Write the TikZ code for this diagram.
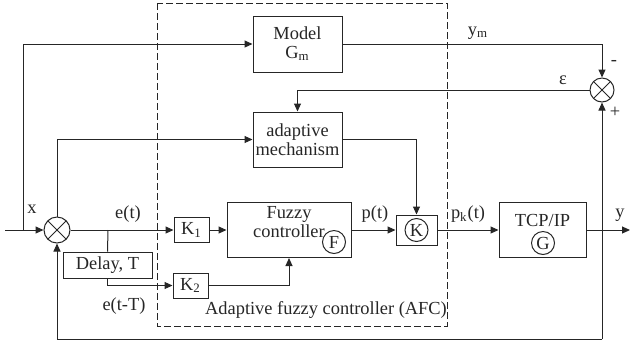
\documentclass[tikz,border=0pt]{standalone}
\usepackage{fontspec}
\setmainfont{Liberation Serif}
\usepackage{xcolor}
\usetikzlibrary{arrows.meta,positioning}
\definecolor{LineGray}{HTML}{262626}

\begin{document}
\begin{tikzpicture}[x=0.5pt,y=-0.5pt,
    font=\fontsize{9.2}{9.4}\selectfont,
    >={Triangle[length=4pt,width=3.5pt]},
    line width=0.5pt,color=LineGray,
    blk/.style={draw,inner sep=0pt,align=center},
    smallc/.style={draw,circle,inner sep=0pt,minimum size=11.5pt},
    sumc/.style={draw,circle,inner sep=0pt,minimum size=#1,
      path picture={\draw (path picture bounding box.north west) -- (path picture bounding box.south east)
                          (path picture bounding box.north east) -- (path picture bounding box.south west);}},
    lbl/.style={inner sep=0pt}]
  \useasboundingbox (0,0) rectangle (630,344);

  % AFC frame
  \draw[dash pattern=on 3.5pt off 1.5pt] (157,3) rectangle (447,326);
  \node[lbl] (afc) at (326,310) {Adaptive fuzzy controller (AFC)};

  % blocks
  \node[blk,minimum width=44.5pt,minimum height=28pt] (model) at (297.5,44) {Model\\G\textsubscript{m}};
  \node[blk,minimum width=44.5pt,minimum height=27.5pt] (adapt) at (297.5,139.5) {adaptive\\mechanism};
  \node[blk,minimum width=44.5pt,minimum height=13pt] (delay) at (107.5,265) {Delay, T};
  \node[blk,minimum width=17.5pt,minimum height=12.5pt] (k1) at (191.5,230) {K\textsubscript{1}};
  \node[blk,minimum width=17.5pt,minimum height=12.5pt] (k2) at (190.5,285.5) {K\textsubscript{2}};
  \node[blk,minimum width=62pt,minimum height=27.5pt] (fuzzy) at (289,230) {};
  \node[lbl,align=center,below=2pt] (fuzzytxt) at (fuzzy.north) {Fuzzy\\controller};
  \node[smallc] (fc) at (334,242) {F};
  \node[blk,minimum width=20.5pt,minimum height=15pt] (kbox) at (416.5,230) {};
  \node[smallc] (kc) at (kbox) {K};
  \node[blk,minimum width=43.5pt,minimum height=27.5pt] (tcp) at (542.5,230) {};
  \node[lbl] (tcptxt) at (542.5,220) {TCP/IP};
  \node[smallc] (gc) at (543,243) {G};

  % summing junctions
  \node[sumc=13pt] (sumL) at (57,230) {};
  \node[sumc=12pt] (sumR) at (602,90) {};

  % helper points
  \coordinate (in) at (5,230);
  \coordinate (xsplit) at (23,230);
  \coordinate (esplit) at (108,230);
  \coordinate (ysplit) at (602,230);
  \coordinate (out) at (630,230);
  \coordinate (fb) at (602,339);

  % signals
  \draw[->] (in) -- (sumL.west);
  \draw[->] (xsplit) |- (model.west);
  \draw[->] (sumL.north) |- (adapt.west);
  \draw[->] (model.east) -| (sumR.north);
  \draw[->] (sumR.west) -| (adapt.north);
  \draw[->] (adapt.east) -| (kbox.north);
  \draw[->] (sumL.east) -- (k1.west);
  \draw (esplit) -- (delay.north);
  \draw[->] (delay.south) |- (k2.west);
  \draw[->] (k1.east) -- (fuzzy.west);
  \draw[->] (k2.east) -| (fuzzy.south);
  \draw[->] (fuzzy.east) -- (kbox.west);
  \draw[->] (kbox.east) -- (tcp.west);
  \draw[->] (tcp.east) -- (out);
  \draw[->] (fb) -- (sumR.south);
  \draw[->] (fb) -| (sumL.south);

  % labels
  \node[lbl] (xl) at (32,209) {x};
  \node[lbl] (etl) at (128,214) {e(t)};
  \node[lbl] (etTl) at (124,306) {e(t-T)};
  \node[lbl] (ptl) at (375,214) {p(t)};
  \node[lbl] (pktl) at (468,214) {p\textsubscript{k}(t)};
  \node[lbl] (yl) at (620,215) {y};
  \node[lbl] (yml) at (478,33) {y\textsubscript{m}};
  \node[lbl] (epsl) at (563,80) {ε};
  \node[lbl] (minusl) at (614,63) {-};
  \node[lbl] (plusl) at (615,112) {+};
\end{tikzpicture}
\end{document}
